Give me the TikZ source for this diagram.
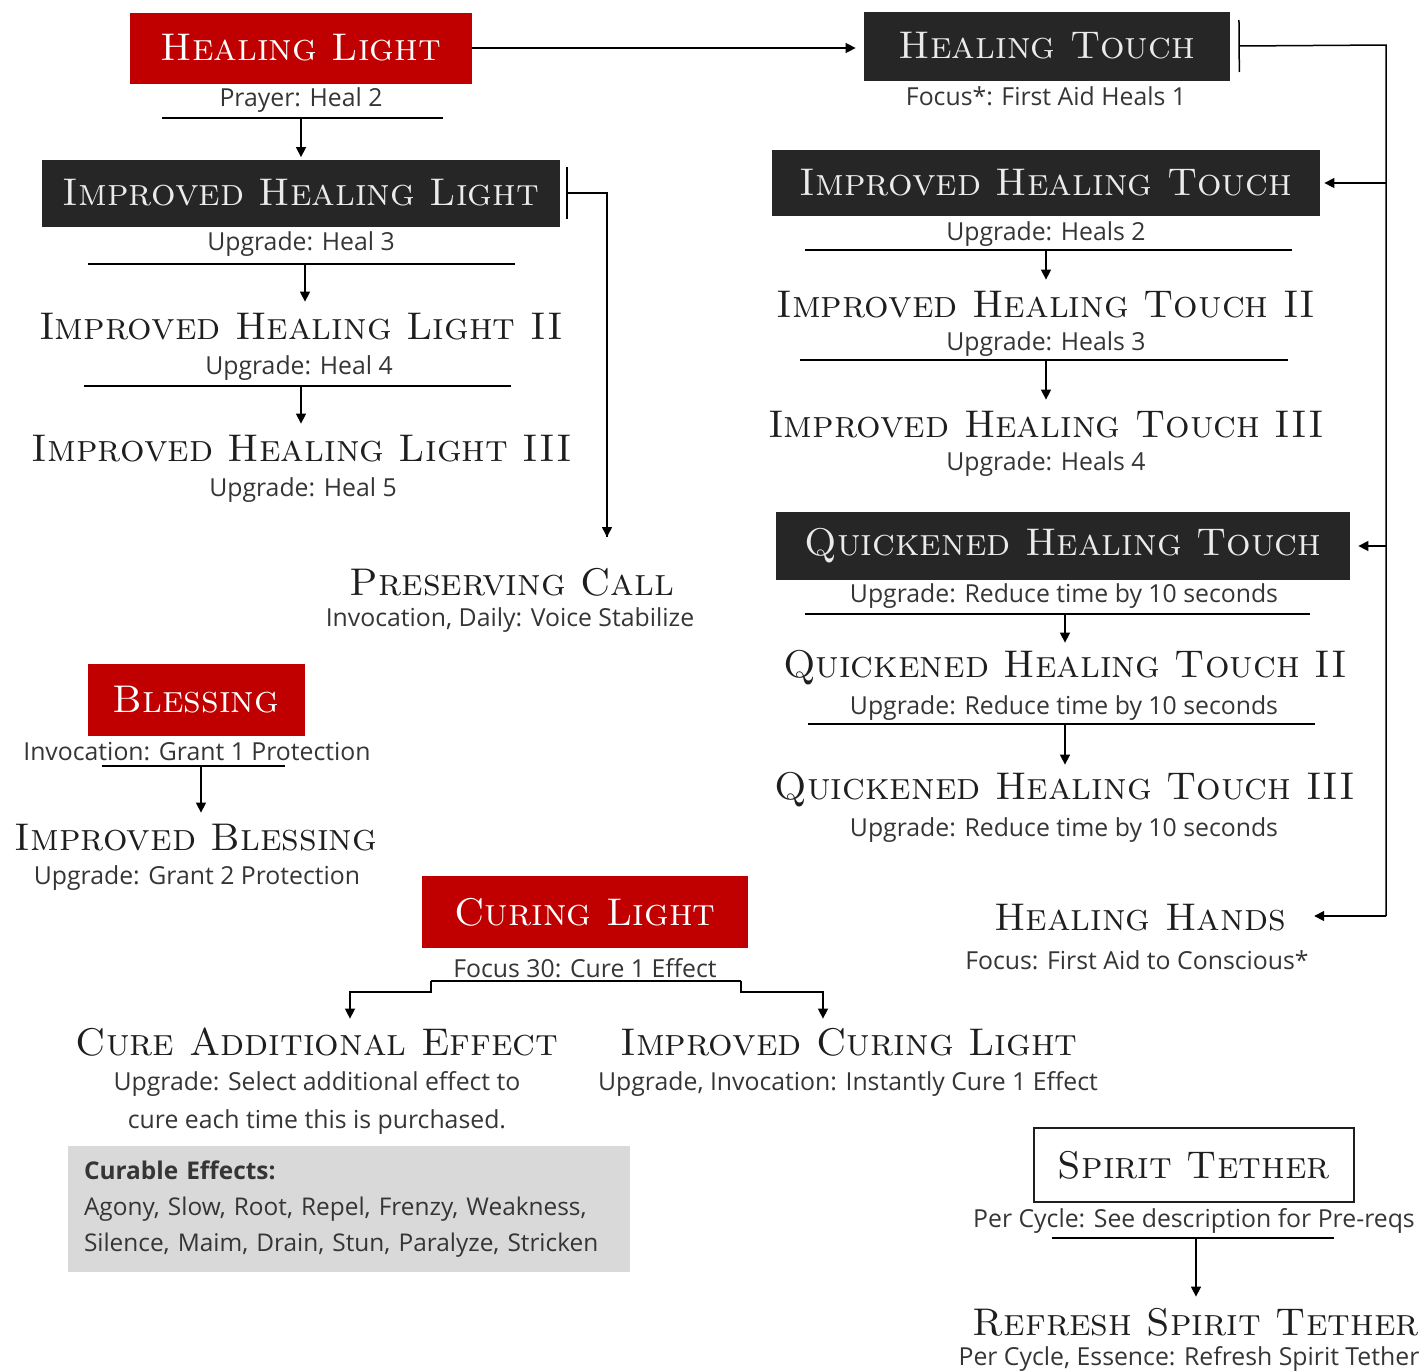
\documentclass[tikz,border=0pt]{standalone}
\usepackage{fontspec}
\usepackage{xcolor}
\usetikzlibrary{arrows.meta}
\newfontfamily\bodyfont{Open Sans}
\definecolor{boxred}{HTML}{C00000}
\definecolor{boxdark}{HTML}{262626}
\definecolor{ink}{HTML}{1E1E1E}
\definecolor{panel}{HTML}{D9D9D9}
\tikzset{
  skill/.style={font=\fontsize{19.3}{22}\selectfont\scshape, text=ink, inner sep=0pt, minimum height=23pt},
  redskill/.style={skill, fill=boxred, text=white},
  darkskill/.style={skill, fill=boxdark, text=white!92!black},
  info/.style={font=\bodyfont\fontsize{12.4}{19}\selectfont, text=ink!90, inner sep=0pt, align=center, yshift=-1pt},
  link/.style={-{Triangle[length=5pt,width=5pt]}, line width=0.75pt},
  rail/.style={{Bar[width=26pt]}-, line width=0.75pt}
}
\begin{document}
\begin{tikzpicture}[x=0.5pt,y=-0.5pt]
\useasboundingbox (0,0) rectangle (1426,1372);
% light tree
\node[redskill, minimum width=171pt, minimum height=35.5pt] (hl) at (301,48) {Healing Light};
\node[info] (hld) at (301,98) {Prayer: Heal 2};
\node[darkskill, minimum width=259pt, minimum height=33.5pt] (ihl) at (301,193) {Improved Healing Light};
\node[info] (ihld) at (301,242) {Upgrade: Heal 3};
\node[skill] (ihl2) at (301,327) {Improved Healing Light II};
\node[info] (ihl2d) at (299,366) {Upgrade: Heal 4};
\node[skill] (ihl3) at (302,449) {Improved Healing Light III};
\node[info] (ihl3d) at (303,488) {Upgrade: Heal 5};
\node[skill] (pc) at (512,582) {Preserving Call};
\node[info] (pcd) at (510,618) {Invocation, Daily: Voice Stabilize};
% touch tree
\node[darkskill, minimum width=183pt, minimum height=34.5pt] (ht) at (1047,46) {Healing Touch};
\node[info] (htd) at (1046,94) {Focus*: First Aid Heals 1};
\node[darkskill, minimum width=274pt, minimum height=33pt] (iht) at (1046,183) {Improved Healing Touch};
\node[info] (ihtd) at (1046,232) {Upgrade: Heals 2};
\node[skill] (iht2) at (1046,305) {Improved Healing Touch II};
\node[info] (iht2d) at (1046,342) {Upgrade: Heals 3};
\node[skill] (iht3) at (1046,425) {Improved Healing Touch III};
\node[info] (iht3d) at (1046,462) {Upgrade: Heals 4};
\node[darkskill, minimum width=287pt, minimum height=34pt] (qht) at (1063,546) {Quickened Healing Touch};
\node[info] (qhtd) at (1064,594) {Upgrade: Reduce time by 10 seconds};
\node[skill] (qht2) at (1065,668) {Quickened Healing Touch II};
\node[info] (qht2d) at (1064,706) {Upgrade: Reduce time by 10 seconds};
\node[skill] (qht3) at (1065,790) {Quickened Healing Touch III};
\node[info] (qht3d) at (1064,828) {Upgrade: Reduce time by 10 seconds};
\node[skill] (hh) at (1140,918) {Healing Hands};
\node[info] (hhd) at (1137,958) {Focus: First Aid to Conscious*};
% blessing
\node[redskill, minimum width=108.5pt, minimum height=36pt] (bl) at (196,700) {Blessing};
\node[info] (bld) at (197,750) {Invocation: Grant 1 Protection};
\node[skill] (ibl) at (196,838) {Improved Blessing};
\node[info] (ibld) at (197,876) {Upgrade: Grant 2 Protection};
% curing
\node[redskill, minimum width=163pt, minimum height=36pt] (cl) at (585,912) {Curing Light};
\node[info] (cld) at (585,966) {Focus 30: Cure 1 Effect};
\node[skill] (cae) at (317,1042) {Cure Additional Effect};
\node[info] (caed) at (317,1101) {Upgrade: Select additional effect to\\cure each time this is purchased.};
\node[skill] (icl) at (849,1042) {Improved Curing Light};
\node[info] (icld) at (848,1082) {Upgrade, Invocation: Instantly Cure 1 Effect};
\node[info, font=\bodyfont\fontsize{12.2}{17.8}\selectfont, fill=panel, align=left, text width=265pt,
  inner xsep=8pt, minimum height=63pt, yshift=1pt] (fx) at (349,1209)
  {\textbf{Curable Effects:}\\Agony, Slow, Root, Repel, Frenzy, Weakness,\\Silence, Maim, Drain, Stun, Paralyze, Stricken};
% tether
\node[skill, draw=ink, line width=0.75pt, minimum width=160pt, minimum height=37pt] (st) at (1194,1165) {Spirit Tether};
\node[info] (std) at (1194,1219) {Per Cycle: See description for Pre-reqs};
\node[skill] (rst) at (1196,1322) {Refresh Spirit Tether};
\node[info] (rstd) at (1189,1357) {Per Cycle, Essence: Refresh Spirit Tether};
% underlines and arrows down
\foreach \a/\b/\y/\x/\n in {162/443/118/301/ihl, 88/515/264/305/ihl2, 84/511/386/301/ihl3,
    805/1292/250/1046/iht2, 800/1288/360/1046/iht3, 805/1310/614/1065/qht2,
    808/1315/724/1065/qht3, 102/285/766/201/ibl, 1052/1334/1238/1196/rst} {
  \draw[line width=0.75pt] (\a,\y) -- (\b,\y);
  \coordinate (u\n) at (\x,\y);
  \draw[link, shorten >=1pt] (u\n) -- (u\n |- \n.north);
}
\draw[link, shorten >=4pt] (hl.east) -- (hl.east -| ht.west);
% side rails
\coordinate (pcin) at (607,537);
\draw[rail] ([xshift=3pt]ihl.east) -| (pcin);
\draw[link] (pcin |- ihl.east) -- (pcin);
\coordinate (railtop) at (1386,45);
\coordinate (railend) at (1386,916);
\draw[rail] ([xshift=4pt]ht.east) -- (railtop) -- (railend);
\draw[link] (railtop |- iht.east) -- ([xshift=2pt]iht.east);
\draw[link] (railtop |- qht.east) -- ([xshift=4pt]qht.east);
\draw[link] (railend) -- ([xshift=14pt]hh.east |- railend);
% curing split
\coordinate (cll) at (431,981);
\coordinate (clr) at (741,981);
\coordinate (caein) at (350,992);
\coordinate (iclin) at (823,992);
\draw[line width=0.75pt] (cll) -- (clr);
\draw[link] (cll) |- (caein) -- (caein |- cae.north);
\draw[link] (clr) |- (iclin) -- (iclin |- icl.north);
\end{tikzpicture}
\end{document}
